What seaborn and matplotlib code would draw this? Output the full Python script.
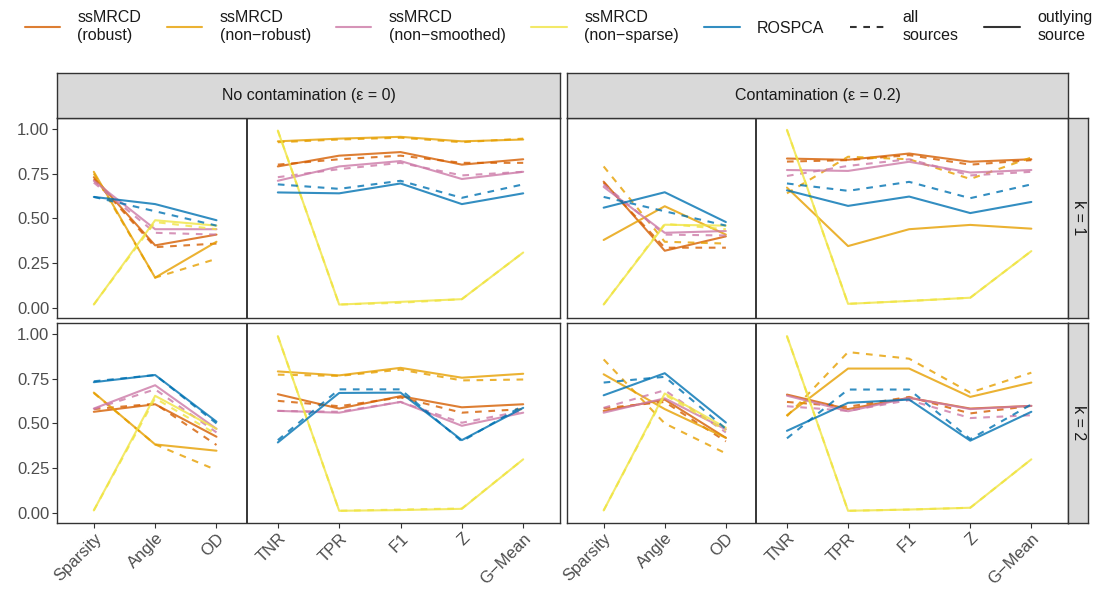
import matplotlib
matplotlib.use("Agg")
import matplotlib.pyplot as plt
from matplotlib.lines import Line2D
import seaborn as sns
import pandas as pd

sns.set_theme(style="white")
plt.rcParams['font.family'] = ['Liberation Sans', 'DejaVu Sans']

# ---------------- data ----------------
METRICS = ["Sparsity", "Angle", "OD", "TNR", "TPR", "F1", "Z", "G\u2212Mean"]
METRIC_GROUP = ["shape", "shape", "shape", "det", "det", "det", "det", "det"]
METHODS = ["ssMRCD\n(robust)", "ssMRCD\n(non\u2212robust)", "ssMRCD\n(non\u2212smoothed)",
           "ssMRCD\n(non\u2212sparse)", "ROSPCA"]
SOURCES = ["all\nsources", "outlying\nsource"]
COL_LABELS = ["No contamination (\u03b5 = 0)", "Contamination (\u03b5 = 0.2)"]
ROW_LABELS = ["k = 1", "k = 2"]
Y_TICKS = [0.00, 0.25, 0.50, 0.75, 1.00]

# k = 1, eps = 0
K1E0_ROBUST_ALL = [0.72, 0.34, 0.36, 0.80, 0.83, 0.85, 0.81, 0.81]
K1E0_ROBUST_OUT = [0.73, 0.35, 0.41, 0.79, 0.85, 0.87, 0.80, 0.83]
K1E0_NONROB_ALL = [0.75, 0.17, 0.275, 0.925, 0.94, 0.95, 0.925, 0.945]
K1E0_NONROB_OUT = [0.76, 0.17, 0.37, 0.93, 0.945, 0.955, 0.93, 0.94]
K1E0_NONSMO_ALL = [0.70, 0.42, 0.41, 0.73, 0.775, 0.81, 0.74, 0.76]
K1E0_NONSMO_OUT = [0.71, 0.44, 0.44, 0.71, 0.79, 0.82, 0.72, 0.76]
K1E0_NONSPA_ALL = [0.02, 0.48, 0.44, 0.99, 0.02, 0.03, 0.05, 0.31]
K1E0_NONSPA_OUT = [0.02, 0.49, 0.46, 0.99, 0.02, 0.035, 0.05, 0.31]
K1E0_ROSPCA_ALL = [0.62, 0.54, 0.46, 0.69, 0.665, 0.71, 0.615, 0.69]
K1E0_ROSPCA_OUT = [0.62, 0.58, 0.49, 0.645, 0.64, 0.695, 0.58, 0.64]

# k = 1, eps = 0.2
K1E2_ROBUST_ALL = [0.70, 0.337, 0.337, 0.817, 0.825, 0.853, 0.80, 0.825]
K1E2_ROBUST_OUT = [0.705, 0.32, 0.40, 0.834, 0.827, 0.862, 0.816, 0.83]
K1E2_NONROB_ALL = [0.79, 0.37, 0.36, 0.64, 0.844, 0.83, 0.72, 0.84]
K1E2_NONROB_OUT = [0.38, 0.568, 0.41, 0.672, 0.346, 0.44, 0.464, 0.443]
K1E2_NONSMO_ALL = [0.69, 0.41, 0.405, 0.737, 0.793, 0.83, 0.74, 0.76]
K1E2_NONSMO_OUT = [0.676, 0.42, 0.43, 0.77, 0.765, 0.816, 0.756, 0.77]
K1E2_NONSPA_ALL = [0.02, 0.47, 0.44, 0.994, 0.024, 0.04, 0.058, 0.318]
K1E2_NONSPA_OUT = [0.02, 0.465, 0.46, 0.994, 0.024, 0.04, 0.058, 0.318]
K1E2_ROSPCA_ALL = [0.62, 0.54, 0.46, 0.695, 0.654, 0.704, 0.613, 0.69]
K1E2_ROSPCA_OUT = [0.56, 0.646, 0.48, 0.657, 0.57, 0.622, 0.53, 0.592]

# k = 2, eps = 0
K2E0_ROBUST_ALL = [0.58, 0.61, 0.38, 0.626, 0.596, 0.645, 0.56, 0.58]
K2E0_ROBUST_OUT = [0.565, 0.607, 0.426, 0.663, 0.583, 0.652, 0.59, 0.607]
K2E0_NONROB_ALL = [0.67, 0.383, 0.24, 0.772, 0.765, 0.80, 0.74, 0.745]
K2E0_NONROB_OUT = [0.672, 0.383, 0.348, 0.79, 0.768, 0.81, 0.755, 0.777]
K2E0_NONSMO_ALL = [0.58, 0.69, 0.45, 0.57, 0.565, 0.62, 0.504, 0.57]
K2E0_NONSMO_OUT = [0.583, 0.713, 0.47, 0.57, 0.56, 0.62, 0.487, 0.56]
K2E0_NONSPA_ALL = [0.015, 0.64, 0.44, 0.987, 0.013, 0.02, 0.026, 0.30]
K2E0_NONSPA_OUT = [0.015, 0.654, 0.47, 0.987, 0.013, 0.017, 0.024, 0.30]
K2E0_ROSPCA_ALL = [0.735, 0.77, 0.50, 0.407, 0.69, 0.69, 0.40, 0.60]
K2E0_ROSPCA_OUT = [0.73, 0.77, 0.51, 0.394, 0.67, 0.672, 0.407, 0.587]

# k = 2, eps = 0.2
K2E2_ROBUST_ALL = [0.585, 0.62, 0.40, 0.62, 0.593, 0.648, 0.556, 0.598]
K2E2_ROBUST_OUT = [0.57, 0.633, 0.42, 0.661, 0.58, 0.643, 0.583, 0.598]
K2E2_NONROB_ALL = [0.857, 0.50, 0.333, 0.54, 0.898, 0.861, 0.672, 0.783]
K2E2_NONROB_OUT = [0.774, 0.58, 0.42, 0.546, 0.806, 0.806, 0.648, 0.728]
K2E2_NONSMO_ALL = [0.587, 0.685, 0.45, 0.596, 0.57, 0.63, 0.53, 0.546]
K2E2_NONSMO_OUT = [0.56, 0.64, 0.467, 0.655, 0.568, 0.643, 0.58, 0.598]
K2E2_NONSPA_ALL = [0.015, 0.66, 0.46, 0.987, 0.013, 0.02, 0.03, 0.30]
K2E2_NONSPA_OUT = [0.015, 0.667, 0.476, 0.987, 0.013, 0.02, 0.03, 0.30]
K2E2_ROSPCA_ALL = [0.728, 0.76, 0.47, 0.417, 0.689, 0.689, 0.413, 0.606]
K2E2_ROSPCA_OUT = [0.657, 0.78, 0.505, 0.459, 0.615, 0.633, 0.404, 0.565]

PANELS = {
    (0, 0): [[K1E0_ROBUST_ALL, K1E0_ROBUST_OUT], [K1E0_NONROB_ALL, K1E0_NONROB_OUT],
             [K1E0_NONSMO_ALL, K1E0_NONSMO_OUT], [K1E0_NONSPA_ALL, K1E0_NONSPA_OUT],
             [K1E0_ROSPCA_ALL, K1E0_ROSPCA_OUT]],
    (0, 1): [[K1E2_ROBUST_ALL, K1E2_ROBUST_OUT], [K1E2_NONROB_ALL, K1E2_NONROB_OUT],
             [K1E2_NONSMO_ALL, K1E2_NONSMO_OUT], [K1E2_NONSPA_ALL, K1E2_NONSPA_OUT],
             [K1E2_ROSPCA_ALL, K1E2_ROSPCA_OUT]],
    (1, 0): [[K2E0_ROBUST_ALL, K2E0_ROBUST_OUT], [K2E0_NONROB_ALL, K2E0_NONROB_OUT],
             [K2E0_NONSMO_ALL, K2E0_NONSMO_OUT], [K2E0_NONSPA_ALL, K2E0_NONSPA_OUT],
             [K2E0_ROSPCA_ALL, K2E0_ROSPCA_OUT]],
    (1, 1): [[K2E2_ROBUST_ALL, K2E2_ROBUST_OUT], [K2E2_NONROB_ALL, K2E2_NONROB_OUT],
             [K2E2_NONSMO_ALL, K2E2_NONSMO_OUT], [K2E2_NONSPA_ALL, K2E2_NONSPA_OUT],
             [K2E2_ROSPCA_ALL, K2E2_ROSPCA_OUT]],
}

COLORS = ["#D55E00", "#E69F00", "#CC79A7", "#F0E442", "#0072B2"]
ALPHA = 0.8
palette = dict(zip(METHODS, COLORS))
dashes = {SOURCES[0]: (3.2, 3.2), SOURCES[1]: ""}

# ---------------- figure ----------------
W, H = 1117, 592
fig = plt.figure(figsize=(W / 100, H / 100), dpi=100)

def fx(px):
    return px / W

def fy(px):
    return 1 - px / H

col_x = [(57, 560), (567, 1068)]
row_y = [(118, 318), (323, 523)]
TXT = "#1A1A1A"
TICK = "#4D4D4D"
BORDER = "#333333"

for (r, c), series in PANELS.items():
    x0, x1 = col_x[c]
    y0, y1 = row_y[r]
    ax = fig.add_axes([fx(x0), fy(y1), fx(x1 - x0), (y1 - y0) / H])
    rows = []
    for m, pair in zip(METHODS, series):
        for s, vals in zip(SOURCES, pair):
            for i, v in enumerate(vals):
                rows.append({"pos": i, "value": v, "method": m, "source": s,
                             "unit": METRIC_GROUP[i]})
    df = pd.DataFrame(rows)
    sns.lineplot(data=df, x="pos", y="value", hue="method", style="source",
                 units="unit", hue_order=METHODS, style_order=SOURCES,
                 palette=palette, dashes=dashes, linewidth=1.5, alpha=ALPHA,
                 sort=False, estimator=None, legend=False, ax=ax)
    ax.axvline(2.5, color="black", linewidth=1.1)
    ax.set_xlim(-0.6, 7.6)
    ax.set_ylim(-0.055, 1.06)
    ax.set_xlabel("")
    ax.set_ylabel("")
    for sp in ax.spines.values():
        sp.set_color(BORDER)
        sp.set_linewidth(1.0)
    ax.set_xticks(range(len(METRICS)))
    ax.set_yticks(Y_TICKS)
    ax.tick_params(axis="both", length=3.5, width=0.8, color=BORDER,
                   labelcolor=TICK, labelsize=12, direction="out", pad=2)
    if c == 0:
        ax.set_yticklabels([f"{t:.2f}" for t in Y_TICKS])
        ax.tick_params(axis="y", left=True)
    else:
        ax.tick_params(axis="y", left=False, labelleft=False)
    if r == 1:
        ax.set_xticklabels(METRICS, rotation=45, ha="right", rotation_mode="anchor")
        ax.tick_params(axis="x", bottom=True)
    else:
        ax.tick_params(axis="x", bottom=False, labelbottom=False)

# top strips
for c, lab in enumerate(COL_LABELS):
    x0, x1 = col_x[c]
    sax = fig.add_axes([fx(x0), fy(118), fx(x1 - x0), 45 / H])
    sax.set_facecolor("#D9D9D9")
    sax.set_xticks([]); sax.set_yticks([])
    for sp in sax.spines.values():
        sp.set_color(BORDER); sp.set_linewidth(1.0)
    sax.text(0.5, 0.5, lab, ha="center", va="center", fontsize=11.5,
             color=TXT, transform=sax.transAxes)

# right strips
for r, lab in enumerate(ROW_LABELS):
    y0, y1 = row_y[r]
    sax = fig.add_axes([fx(1068), fy(y1), fx(20), (y1 - y0) / H])
    sax.set_facecolor("#D9D9D9")
    sax.set_xticks([]); sax.set_yticks([])
    for sp in sax.spines.values():
        sp.set_color(BORDER); sp.set_linewidth(1.0)
    sax.text(0.5, 0.5, lab, ha="center", va="center", rotation=-90,
             fontsize=11.5, color=TXT, transform=sax.transAxes)

# legend
handles = [Line2D([0], [0], color=col, lw=1.5, alpha=ALPHA) for col in COLORS]
handles += [Line2D([0], [0], color="#333333", lw=1.5, dashes=(3.2, 3.2)),
            Line2D([0], [0], color="#333333", lw=1.5)]
labels = METHODS + SOURCES
fig.legend(handles, labels, loc="center", bbox_to_anchor=(0.5, 0.955),
           ncol=7, frameon=False, fontsize=11.5, handlelength=2.2,
           handletextpad=1.1, columnspacing=1.6, labelcolor=TXT)

fig.savefig("out.png", dpi=100)
